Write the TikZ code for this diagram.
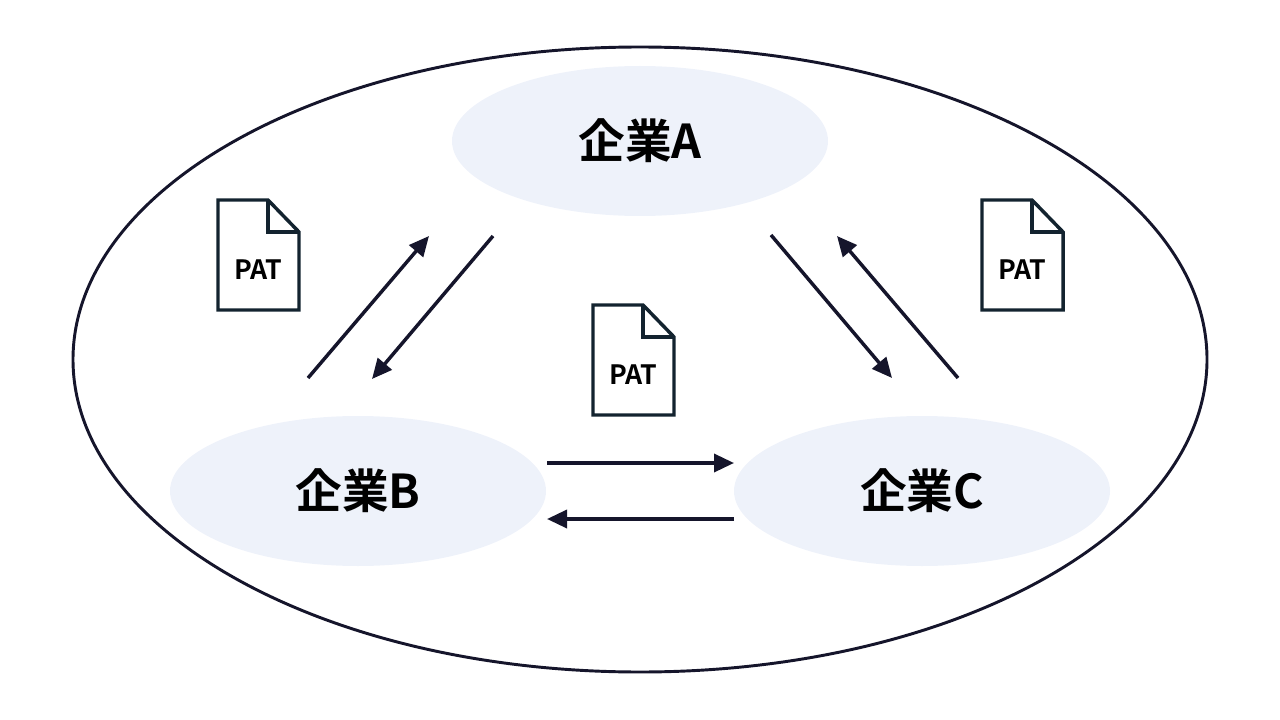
\documentclass[tikz,border=0pt]{standalone}
\usepackage{fontspec}
\usetikzlibrary{arrows.meta,shapes.geometric}
\setmainfont{Noto Sans CJK JP}[BoldFont={Noto Sans CJK JP Bold}]
\definecolor{nodefill}{HTML}{EEF2FA}
\definecolor{ink}{HTML}{15152B}
\definecolor{docink}{HTML}{13232F}
\tikzset{
  company/.style={ellipse, fill=nodefill, minimum width=376*0.75pt, minimum height=150*0.75pt, inner sep=0pt, font=\bfseries\fontsize{35}{37}\selectfont},
  doclabel/.style={inner sep=0pt, font=\bfseries\fontsize{20}{22}\selectfont, text=black},
  flow/.style={draw=ink, line width=2.6pt, -{Triangle[length=15pt, width=13.5pt]}},
  docline/.style={draw=docink, line width=2.6pt, line join=miter},
}
\newcommand{\docicon}[1]{%
  \draw[docline] ([shift={(-40,-70)}]#1.center) -- ([shift={(10,-70)}]#1.center) -- ([shift={(41,-38)}]#1.center) -- ([shift={(41,40)}]#1.center) -- ([shift={(-40,40)}]#1.center) -- cycle;
  \draw[docline] ([shift={(10,-70)}]#1.center) -- ([shift={(10,-38)}]#1.center) -- ([shift={(41,-38)}]#1.center);
}
\begin{document}
\begin{tikzpicture}[x=0.75pt, y=-0.75pt]
\useasboundingbox (0,0) rectangle (1280,720);
\draw[draw=ink, line width=2.2pt] (640,359.5) ellipse [x radius=567, y radius=312.5];
\node[company] (A) at (640,141) {企業A};
\node[company] (B) at (358,491) {企業B};
\node[company] (C) at (922,491) {企業C};
\node[doclabel] (d1) at (258,270) {PAT};
\node[doclabel] (d2) at (633,375) {PAT};
\node[doclabel] (d3) at (1022,270) {PAT};
\docicon{d1}
\docicon{d2}
\docicon{d3}
\coordinate (ab1s) at (308,378); \coordinate (ab1e) at (429,236);
\coordinate (ab2s) at (493,236); \coordinate (ab2e) at (372,379);
\coordinate (ac1s) at (771,235); \coordinate (ac1e) at (892,378);
\coordinate (ac2s) at (958,378); \coordinate (ac2e) at (837,236);
\coordinate (bc1s) at (547,463); \coordinate (bc1e) at (734,463);
\coordinate (bc2s) at (734,519); \coordinate (bc2e) at (547,519);
\draw[flow] (ab1s) -- (ab1e);
\draw[flow] (ab2s) -- (ab2e);
\draw[flow] (ac1s) -- (ac1e);
\draw[flow] (ac2s) -- (ac2e);
\draw[flow] (bc1s) -- (bc1e);
\draw[flow] (bc2s) -- (bc2e);
\end{tikzpicture}
\end{document}
